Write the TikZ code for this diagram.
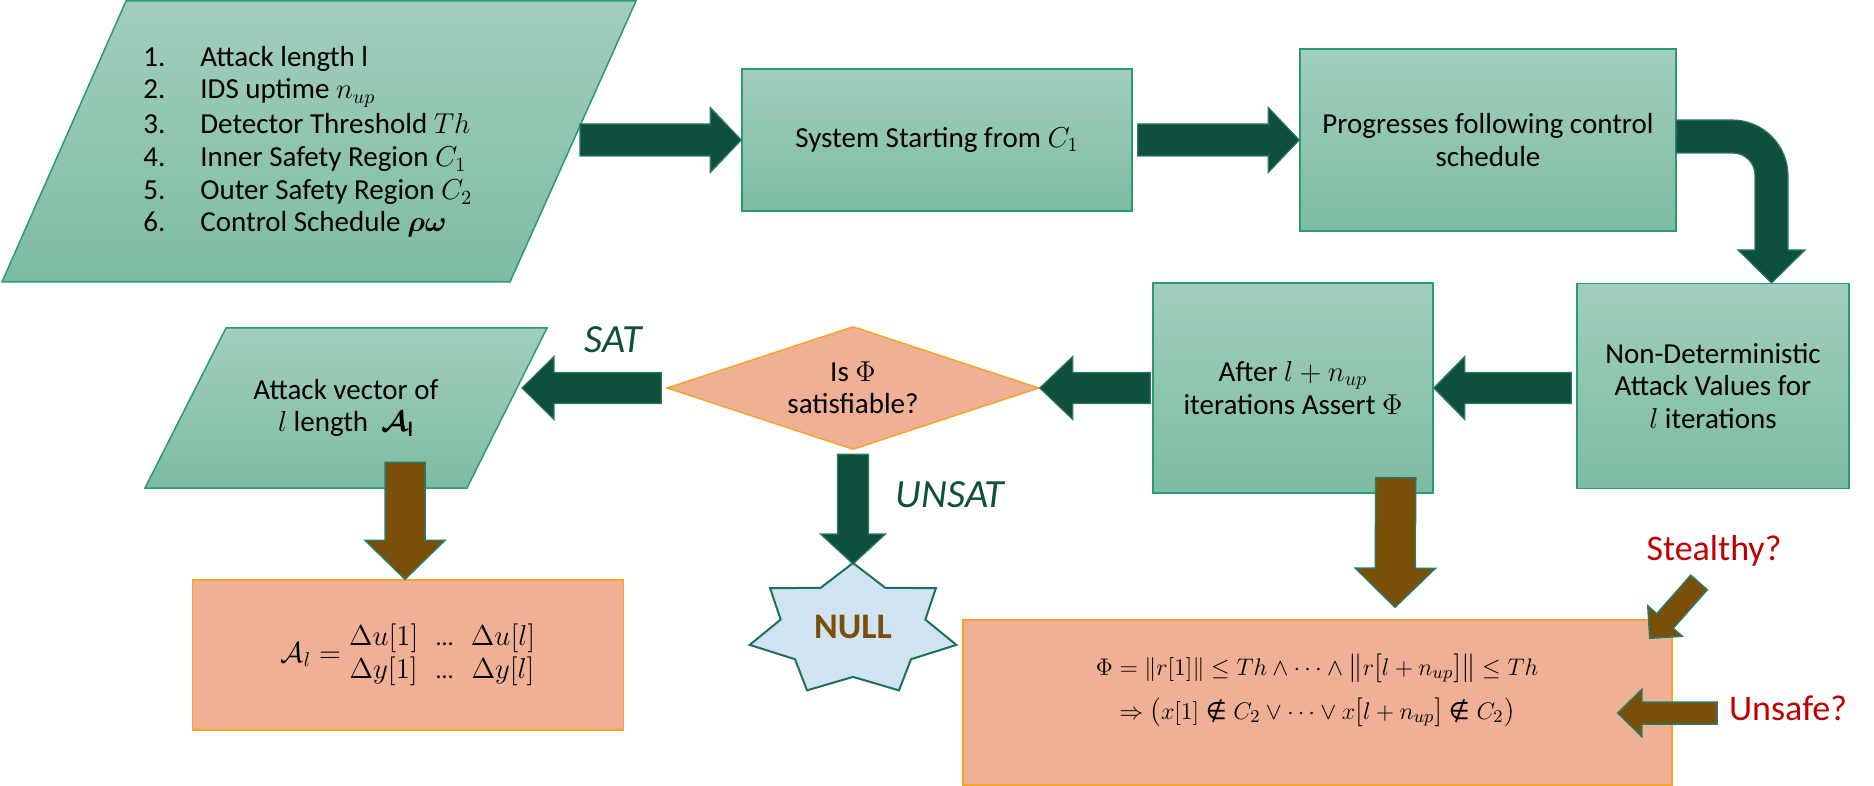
\documentclass[tikz,border=0pt]{standalone}
\usepackage{fontspec}
\usepackage{amsmath}
\usepackage{bm}
\setmainfont{Carlito}
\newfontfamily\djv{DejaVu Sans}
\usetikzlibrary{calc,shapes.geometric}
\definecolor{gtop}{HTML}{A2CEBD}
\definecolor{gbot}{HTML}{7DBCA2}
\definecolor{gline}{HTML}{2A9A76}
\definecolor{darkg}{HTML}{0F4F3E}
\definecolor{arrline}{HTML}{2B7A62}
\definecolor{brn}{HTML}{7A4F0A}
\definecolor{salmon}{HTML}{F0B095}
\definecolor{orng}{HTML}{F4A42A}
\definecolor{starfill}{HTML}{CFE3F3}
\definecolor{starline}{HTML}{1F6F5A}
\definecolor{redlab}{HTML}{C00000}
% enlarged delimiters (scaled ordinary glyphs)
\newcommand\Lb[1]{\mathopen{\text{\fontsize{15.5}{16}\selectfont$#1$}}}
\newcommand\Rb[1]{\mathclose{\text{\fontsize{15.5}{16}\selectfont$#1$}}}
% single-glyph "not an element of"
\newcommand\nelem{\mathrel{\text{\djv\fontsize{12}{12}\selectfont ∉}}}
% block arrow: [style]{start}{tip}{shaft half width}{head half width}{head length}
\newcommand\blkarrow[6][]{%
  \coordinate (ba-s) at (#2);
  \coordinate (ba-e) at (#3);
  \coordinate (ba-c) at ($(ba-e)!#6!(ba-s)$);
  \path[#1] ($(ba-s)!#4!90:(ba-e)$) -- ($(ba-c)!#4!-90:(ba-s)$) -- ($(ba-c)!#5!-90:(ba-s)$) -- (ba-e) -- ($(ba-c)!#5!90:(ba-s)$) -- ($(ba-c)!#4!90:(ba-s)$) -- ($(ba-s)!#4!-90:(ba-e)$) -- cycle;}
\begin{document}
\begin{tikzpicture}[x=0.5pt,y=-0.5pt,
  txt/.style={font=\fontsize{14.5}{16.25}\selectfont, align=center, text=black},
  gbox/.style={draw=gline, line width=0.75pt, top color=gtop, bottom color=gbot, inner sep=0pt, txt},
  gshape/.style={draw=gline, line width=0.75pt, top color=gtop, bottom color=gbot},
  sbox/.style={draw=orng, line width=0.75pt, fill=salmon, inner sep=0pt},
  garrow/.style={fill=darkg, draw=arrline, line width=0.6pt},
  barr/.style={fill=brn, draw=arrline, line width=0.75pt},
  lab/.style={font=\fontsize{20}{24}\selectfont\itshape, text=darkg},
  qlab/.style={font=\fontsize{18}{22}\selectfont, text=redlab},
  item/.style={font=\fontsize{14.5}{16.25}\selectfont, anchor=base west, inner sep=0pt}
]
\useasboundingbox (0,0) rectangle (1874,786);

% input parallelogram
\path[gshape] (126,1) -- (636,1) -- (510,282) -- (2,282) -- cycle;
\node[item] (i1) at (143,67) {\makebox[28.5pt][l]{1.}Attack length l};
\node[item] (i2) at (143,99) {\makebox[28.5pt][l]{2.}IDS uptime $n_{up}$};
\node[item] (i3) at (143,134) {\makebox[28.5pt][l]{3.}Detector Threshold $Th$};
\node[item] (i4) at (143,167) {\makebox[28.5pt][l]{4.}Inner Safety Region $C_1$};
\node[item] (i5) at (143,200) {\makebox[28.5pt][l]{5.}Outer Safety Region $C_2$};
\node[item] (i6) at (143,232) {\makebox[28.5pt][l]{6.}Control Schedule $\boldsymbol{\rho\omega}$};
\coordinate (inR) at (580,140);

% green boxes
\node[gbox, minimum width=195pt, minimum height=71pt] (sys) at (937,140) {System Starting from $C_1$};
\node[gbox, minimum width=188pt, minimum height=91pt] (prog) at (1488,140) {Progresses following control\\schedule};
\node[gbox, minimum width=136pt, minimum height=102.5pt] (nondet) at (1713,386) {Non-Deterministic\\Attack Values for\\$l$ iterations};
\node[gbox, minimum width=140pt, minimum height=105pt] (after) at (1293,388) {After $l+n_{up}$\\iterations Assert $\Phi$};

% decision
\node[diamond, aspect=3, draw=orng, fill=salmon, line width=0.75pt, inner sep=0pt,
      minimum width=186pt, minimum height=61.5pt, txt] (dia) at (853,388) {Is $\Phi$\\satisfiable?};

% attack vector parallelogram
\path[gshape] (226,328) -- (547,328) -- (467,488) -- (145,488) -- cycle;
\node[txt] (atk) at (346,408) {Attack vector of\\$l$ length\ \ $\boldsymbol{\mathcal{A}}_{\mathbf{l}}$};
\coordinate (atkR) at (522,388);

% result boxes
\node[sbox, minimum width=215.5pt, minimum height=75pt, font=\fontsize{14}{16.5}\selectfont] (al) at (408,655)
  {$\mathcal{A}_l = \begin{array}{@{}c@{\hspace{9pt}}c@{\hspace{9pt}}c@{}}\Delta u[1] & \text{\fontsize{12}{14}\selectfont…} & \Delta u[l]\\ \Delta y[1] & \text{\fontsize{12}{14}\selectfont…} & \Delta y[l]\end{array}$};
\node[sbox, minimum width=354.5pt, minimum height=82.5pt] (phi) at (1317.5,702.5) {};
\node[font=\fontsize{12.5}{18}\selectfont, align=center, inner sep=0pt] (phit) at (1317,690)
  {$\Phi = \|r[1]\| \leq Th \wedge \cdots \wedge \Lb{\|}r\Lb{[}l+n_{up}\Rb{]}\Rb{\|} \leq Th$\\[4pt]
   $\Rightarrow \Lb{(}x[1] \nelem C_2 \vee \cdots \vee x\Lb{[}l+n_{up}\Rb{]} \nelem C_2\Rb{)}$};

% NULL star
\path[fill=starfill, draw=starline, line width=1pt]
  plot[samples at={0,...,13}, variable=\k] ({853+106*(1-0.3*mod(\k,2))*cos(90+\k*180/7)}, {630-67*(1-0.3*mod(\k,2))*sin(90+\k*180/7)}) -- cycle;
\node[font=\fontsize{18}{20}\selectfont\bfseries, text=brn] (null) at (853,627) {NULL};
\coordinate (nulltop) at (853,564);

% labels
\node[lab, anchor=base] (sat) at (613,352) {SAT};
\node[lab, anchor=base] (unsat) at (950,507) {UNSAT};
\node[qlab, anchor=base] (stl) at (1714,560) {Stealthy?};
\node[qlab, anchor=base] (uns) at (1788,720) {Unsafe?};

% dark green arrows
\blkarrow[garrow]{inR}{sys.west}{8pt}{16.25pt}{15.5pt}
\blkarrow[garrow]{$(sys.east)+(5,0)$}{prog.west}{8pt}{16.25pt}{15.5pt}
\blkarrow[garrow]{$(nondet.west |- after.east)+(-5,0)$}{after.east}{7.75pt}{15.75pt}{15.5pt}
\blkarrow[garrow]{$(after.west)+(-2,0)$}{dia.east}{7.75pt}{15.75pt}{16.5pt}
\blkarrow[garrow]{$(dia.west)+(-5,0)$}{atkR}{7.75pt}{15.75pt}{16pt}
\blkarrow[garrow]{$(dia.south)+(0,4)$}{nulltop}{7.75pt}{16.25pt}{15pt}
% bent arrow from prog to nondet
\path[garrow] (1676,120) -- (1732,120) .. controls (1763,120) and (1788,145) .. (1788,176)
  -- (1788,250) -- (1805,250) -- (1771.5,283) -- (1738,250) -- (1755,250) -- (1755,175)
  .. controls (1755,163) and (1745,153) .. (1733,153) -- (1676,153) -- cycle;

% brown arrows
\blkarrow[barr]{$(al.north)+(-3,-117)$}{$(al.north)+(-3,0)$}{10pt}{20pt}{19.5pt}
\blkarrow[barr]{$(after.south east)+(-38,-16)$}{$(phi.north)+(77.5,-12)$}{10pt}{20pt}{19.5pt}
\blkarrow[barr]{$(stl.base)+(-15,22.5)$}{$(phi.north east)+(-23,19)$}{5.5pt}{11.5pt}{11.5pt}
\blkarrow[barr]{$(uns.base)+(-71,-7)$}{$(phi.east)+(-55,10.5)$}{5.5pt}{11.75pt}{12pt}
\end{tikzpicture}
\end{document}
